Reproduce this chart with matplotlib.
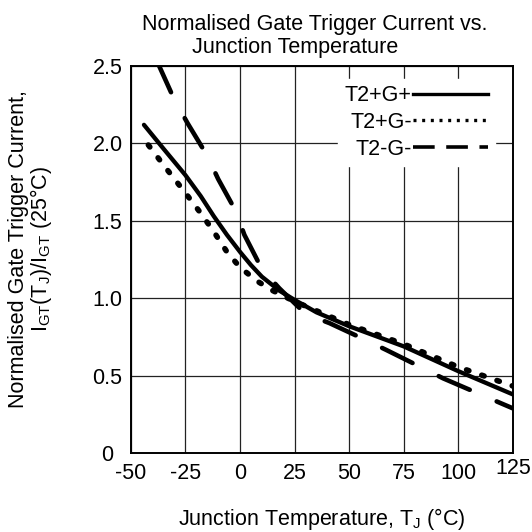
# -*- coding: utf-8 -*-
import matplotlib
matplotlib.use("Agg")
import matplotlib.pyplot as plt
import matplotlib.transforms as mtransforms
from matplotlib.lines import Line2D

plt.rcParams['font.family'] = ['Liberation Sans', 'DejaVu Sans']
plt.rcParams['mathtext.fontset'] = 'custom'
plt.rcParams['mathtext.rm'] = 'Liberation Sans'
plt.rcParams['axes.unicode_minus'] = False

# Datos
t_gp = [-44, -35, -25, -18, -12, -6, 0, 5, 10, 18, 25, 35, 50, 75, 100, 125]
i_gp = [2.12, 1.965, 1.795, 1.66, 1.53, 1.41, 1.30, 1.215, 1.14, 1.05, 0.99, 0.91,
        0.82, 0.69, 0.53, 0.38]

t_gm = [-42, -35, -25, -18, -12, -6, 0, 8, 15, 25, 35, 50, 75, 100, 125]
i_gm = [1.99, 1.86, 1.68, 1.55, 1.43, 1.30, 1.20, 1.11, 1.05, 0.98, 0.92, 0.83,
        0.705, 0.557, 0.434]

t_ngm = [-38, -30, -24, -15, -10, -2, 2, 10, 18, 30, 41, 57, 67, 83, 93, 109, 120, 125]
i_ngm = [2.53, 2.28, 2.13, 1.92, 1.77, 1.565, 1.41, 1.19, 1.065, 0.90, 0.84, 0.735,
         0.667, 0.555, 0.484, 0.387, 0.32, 0.29]

labels = ["T2+G+", "T2+G-", "T2-G-"]
xticks = [-50, -25, 0, 25, 50, 75, 100, 125]
yticks = [0, 0.5, 1.0, 1.5, 2.0, 2.5]
yticklabels = ["0", "0.5", "1.0", "1.5", "2.0", "2.5"]

fs = 15.5

fig = plt.figure(figsize=(5.32, 5.32), dpi=100)
ax = fig.add_axes([0.246, 0.148, 0.718, 0.728])

ax.plot(t_gp, i_gp, color="black", lw=3.1, solid_capstyle="round", solid_joinstyle="round")
ax.plot(t_gm, i_gm, color="black", lw=4.0, dashes=(0.45, 2.45), dash_capstyle="round")
ax.plot(t_ngm, i_ngm, color="black", lw=3.3, dashes=(7.4, 6.4), dash_capstyle="round")

ax.set_xlim(-50, 125)
ax.set_ylim(0, 2.5)
ax.set_xticks(xticks)
ax.set_yticks(yticks)
ax.set_yticklabels(yticklabels)
ax.tick_params(length=0, labelsize=fs)
ax.tick_params(axis="x", pad=7)
ax.tick_params(axis="y", pad=6)
ax.grid(True, color="#222222", lw=0.9)
ax.set_axisbelow(True)
for s in ax.spines.values():
    s.set_linewidth(1.4)

# "0" del eje y y "125" del eje x un poco desplazados, como en el original
lbl0 = ax.get_yticklabels()[0]
lbl0.set_transform(lbl0.get_transform() +
                   mtransforms.ScaledTranslation(-0.09, 0, fig.dpi_scale_trans))
lbl125 = ax.get_xticklabels()[-1]
lbl125.set_transform(lbl125.get_transform() +
                     mtransforms.ScaledTranslation(0, 0.05, fig.dpi_scale_trans))

# Leyenda con la linea a la derecha del texto
handles = [Line2D([], [], color="black", lw=2.4),
           Line2D([], [], color="black", lw=2.4, dashes=(0.9, 1.7)),
           Line2D([], [], color="black", lw=2.6, dashes=(6.0, 3.2))]
leg = ax.legend(handles, labels, loc="upper right", bbox_to_anchor=(0.952, 0.967),
                markerfirst=False, fontsize=fs, handlelength=3.5, handletextpad=0.05,
                labelspacing=0.27, borderpad=0.3, borderaxespad=0,
                frameon=True, fancybox=False, framealpha=1)
leg.get_frame().set_edgecolor("white")
leg.get_frame().set_facecolor("white")

ax.set_xlabel(r"Junction Temperature, T$_{\rm J}$ (°C)", fontsize=fs, labelpad=16)
ax.set_ylabel("Normalised Gate Trigger Current,\n"
              r"I$_{\rm GT}$(T$_{\rm J}$)/I$_{\rm GT}$ (25°C)", fontsize=fs,
              linespacing=0.95)
ax.yaxis.set_label_coords(-0.2, 0.527)

fig.text(0.592, 0.943, "Normalised Gate Trigger Current vs.", fontsize=fs,
         ha="center", va="baseline")
fig.text(0.555, 0.9, "Junction Temperature", fontsize=fs, ha="center", va="baseline")

plt.savefig("out.png", dpi=100)
